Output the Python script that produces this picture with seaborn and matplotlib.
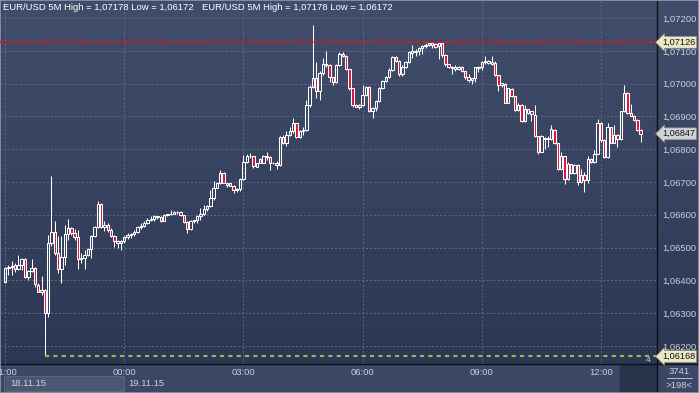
import matplotlib
matplotlib.use("Agg")
import matplotlib.pyplot as plt
import matplotlib.transforms as mtransforms
from matplotlib.colors import LinearSegmentedColormap
from matplotlib.lines import Line2D
from matplotlib.patches import Rectangle
import numpy as np
import seaborn as sns

# 5 minute bars, bar 0 = 19.11.15 00:00, first visible bar = 18.11.15 21:00
first_bar = -36

opens = [
    1.06394, 1.06437, 1.06440, 1.06446, 1.06434, 1.06446, 1.06466, 1.06410, 1.06429, 1.06437,
    1.06386, 1.06366, 1.06371, 1.06302, 1.06513, 1.06548, 1.06483, 1.06434, 1.06471, 1.06541,
    1.06559, 1.06544, 1.06532, 1.06466, 1.06468, 1.06478, 1.06495, 1.06534, 1.06562, 1.06632,
    1.06562, 1.06569, 1.06554, 1.06534, 1.06519, 1.06513, 1.06519, 1.06532, 1.06539, 1.06542,
    1.06549, 1.06562, 1.06566, 1.06574, 1.06583, 1.06586, 1.06595, 1.06593, 1.06581, 1.06599,
    1.06601, 1.06603, 1.06607, 1.06610, 1.06599, 1.06579, 1.06556, 1.06580, 1.06583, 1.06595,
    1.06603, 1.06618, 1.06628, 1.06651, 1.06681, 1.06698, 1.06727, 1.06697, 1.06696, 1.06689,
    1.06676, 1.06678, 1.06709, 1.06762, 1.06780, 1.06778, 1.06747, 1.06769, 1.06759, 1.06778,
    1.06776, 1.06759, 1.06757, 1.06752, 1.06837, 1.06818, 1.06844, 1.06854, 1.06879, 1.06837,
    1.06857, 1.06859, 1.06935, 1.06991, 1.07016, 1.06976, 1.07032, 1.07060, 1.07057, 1.07019,
    1.07006, 1.07057, 1.07091, 1.07084, 1.07044, 1.06986, 1.06935, 1.06930, 1.06935, 1.06966,
    1.06991, 1.06918, 1.06925, 1.06948, 1.06986, 1.07008, 1.07019, 1.07042, 1.07082, 1.07070,
    1.07029, 1.07052, 1.07067, 1.07094, 1.07096, 1.07099, 1.07108, 1.07115, 1.07118, 1.07118,
    1.07121, 1.07115, 1.07123, 1.07088, 1.07060, 1.07047, 1.07044, 1.07044, 1.07050, 1.07037,
    1.07019, 1.07011, 1.07016, 1.07052, 1.07050, 1.07067, 1.07062, 1.07060, 1.07062, 1.07025,
    1.06996, 1.06999, 1.06942, 1.06983, 1.06961, 1.06920, 1.06935, 1.06886, 1.06922, 1.06908,
    1.06905, 1.06839, 1.06793, 1.06834, 1.06830, 1.06830, 1.06859, 1.06818, 1.06739, 1.06778,
    1.06709, 1.06754, 1.06727, 1.06752, 1.06701, 1.06722, 1.06707, 1.06770, 1.06762, 1.06786,
    1.06881, 1.06828, 1.06775, 1.06867, 1.06820, 1.06844, 1.06830, 1.06915, 1.06971, 1.06910,
    1.06902, 1.06889, 1.06859,
]
highs = [
    1.06442, 1.06447, 1.06458, 1.06453, 1.06478, 1.06468, 1.06468, 1.06432, 1.06466, 1.06442,
    1.06392, 1.06412, 1.06373, 1.06539, 1.06717, 1.06580, 1.06534, 1.06534, 1.06569, 1.06587,
    1.06564, 1.06556, 1.06554, 1.06483, 1.06493, 1.06498, 1.06539, 1.06566, 1.06643, 1.06635,
    1.06580, 1.06576, 1.06559, 1.06539, 1.06524, 1.06524, 1.06534, 1.06544, 1.06546, 1.06554,
    1.06566, 1.06574, 1.06580, 1.06589, 1.06597, 1.06599, 1.06597, 1.06595, 1.06601, 1.06603,
    1.06615, 1.06611, 1.06613, 1.06611, 1.06600, 1.06580, 1.06583, 1.06585, 1.06599, 1.06620,
    1.06630, 1.06630, 1.06676, 1.06704, 1.06701, 1.06737, 1.06730, 1.06698, 1.06698, 1.06691,
    1.06681, 1.06712, 1.06783, 1.06786, 1.06788, 1.06780, 1.06759, 1.06773, 1.06783, 1.06793,
    1.06778, 1.06762, 1.06765, 1.06839, 1.06844, 1.06854, 1.06869, 1.06894, 1.06880, 1.06859,
    1.06869, 1.06950, 1.06996, 1.07178, 1.07067, 1.07037, 1.07077, 1.07100, 1.07060, 1.07020,
    1.07060, 1.07095, 1.07096, 1.07086, 1.07045, 1.06987, 1.06938, 1.06938, 1.06996, 1.06994,
    1.06993, 1.06928, 1.06950, 1.06991, 1.07011, 1.07024, 1.07047, 1.07084, 1.07085, 1.07072,
    1.07057, 1.07070, 1.07098, 1.07118, 1.07105, 1.07113, 1.07118, 1.07125, 1.07125, 1.07128,
    1.07125, 1.07125, 1.07125, 1.07090, 1.07061, 1.07053, 1.07057, 1.07054, 1.07053, 1.07039,
    1.07030, 1.07018, 1.07052, 1.07054, 1.07069, 1.07084, 1.07072, 1.07084, 1.07069, 1.07026,
    1.07003, 1.07002, 1.06988, 1.06986, 1.06963, 1.06942, 1.06937, 1.06935, 1.06924, 1.06917,
    1.06935, 1.06840, 1.06842, 1.06836, 1.06839, 1.06874, 1.06862, 1.06820, 1.06790, 1.06780,
    1.06762, 1.06756, 1.06754, 1.06754, 1.06740, 1.06730, 1.06778, 1.06773, 1.06798, 1.06891,
    1.06883, 1.06830, 1.06879, 1.06869, 1.06874, 1.06846, 1.06917, 1.06996, 1.06973, 1.06938,
    1.06904, 1.06891, 1.06861,
]
lows = [
    1.06392, 1.06417, 1.06417, 1.06427, 1.06432, 1.06432, 1.06407, 1.06402, 1.06427, 1.06381,
    1.06365, 1.06355, 1.06172, 1.06288, 1.06505, 1.06478, 1.06422, 1.06392, 1.06447, 1.06524,
    1.06539, 1.06524, 1.06434, 1.06453, 1.06434, 1.06473, 1.06468, 1.06532, 1.06559, 1.06559,
    1.06552, 1.06549, 1.06532, 1.06503, 1.06498, 1.06493, 1.06513, 1.06526, 1.06529, 1.06536,
    1.06544, 1.06556, 1.06562, 1.06572, 1.06581, 1.06581, 1.06587, 1.06579, 1.06580, 1.06597,
    1.06599, 1.06601, 1.06603, 1.06597, 1.06574, 1.06546, 1.06554, 1.06576, 1.06576, 1.06583,
    1.06599, 1.06613, 1.06625, 1.06646, 1.06681, 1.06694, 1.06696, 1.06686, 1.06687, 1.06666,
    1.06671, 1.06674, 1.06707, 1.06757, 1.06773, 1.06744, 1.06745, 1.06757, 1.06757, 1.06767,
    1.06737, 1.06755, 1.06739, 1.06750, 1.06816, 1.06810, 1.06839, 1.06849, 1.06834, 1.06834,
    1.06844, 1.06856, 1.06929, 1.06986, 1.06955, 1.06950, 1.07027, 1.07052, 1.07006, 1.06996,
    1.07001, 1.07054, 1.07082, 1.07042, 1.06981, 1.06928, 1.06928, 1.06922, 1.06932, 1.06963,
    1.06912, 1.06894, 1.06918, 1.06945, 1.06983, 1.07005, 1.07016, 1.07039, 1.07065, 1.07024,
    1.07024, 1.07049, 1.07064, 1.07077, 1.07084, 1.07088, 1.07090, 1.07110, 1.07115, 1.07108,
    1.07110, 1.07074, 1.07082, 1.07055, 1.07048, 1.07029, 1.07040, 1.07042, 1.07035, 1.07014,
    1.07006, 1.06999, 1.07006, 1.07034, 1.07042, 1.07059, 1.07060, 1.07057, 1.07023, 1.06976,
    1.06991, 1.06940, 1.06940, 1.06960, 1.06917, 1.06918, 1.06883, 1.06883, 1.06908, 1.06887,
    1.06837, 1.06786, 1.06790, 1.06800, 1.06808, 1.06828, 1.06816, 1.06737, 1.06737, 1.06694,
    1.06707, 1.06725, 1.06725, 1.06691, 1.06696, 1.06668, 1.06698, 1.06757, 1.06759, 1.06784,
    1.06823, 1.06773, 1.06773, 1.06818, 1.06818, 1.06808, 1.06828, 1.06913, 1.06908, 1.06900,
    1.06887, 1.06857, 1.06823,
]
closes = [
    1.06437, 1.06440, 1.06444, 1.06434, 1.06446, 1.06466, 1.06410, 1.06429, 1.06437, 1.06390,
    1.06366, 1.06371, 1.06302, 1.06513, 1.06548, 1.06483, 1.06434, 1.06471, 1.06541, 1.06559,
    1.06544, 1.06532, 1.06466, 1.06468, 1.06478, 1.06495, 1.06534, 1.06562, 1.06632, 1.06562,
    1.06569, 1.06554, 1.06534, 1.06519, 1.06513, 1.06519, 1.06532, 1.06539, 1.06542, 1.06549,
    1.06562, 1.06566, 1.06574, 1.06585, 1.06586, 1.06595, 1.06592, 1.06581, 1.06599, 1.06601,
    1.06603, 1.06607, 1.06610, 1.06599, 1.06579, 1.06556, 1.06580, 1.06583, 1.06595, 1.06603,
    1.06618, 1.06628, 1.06651, 1.06681, 1.06698, 1.06727, 1.06697, 1.06691, 1.06689, 1.06676,
    1.06678, 1.06709, 1.06762, 1.06780, 1.06778, 1.06749, 1.06757, 1.06759, 1.06778, 1.06776,
    1.06759, 1.06757, 1.06752, 1.06837, 1.06818, 1.06844, 1.06854, 1.06879, 1.06837, 1.06857,
    1.06859, 1.06935, 1.06991, 1.07016, 1.06976, 1.07032, 1.07060, 1.07057, 1.07019, 1.07006,
    1.07057, 1.07091, 1.07084, 1.07044, 1.06986, 1.06935, 1.06930, 1.06935, 1.06966, 1.06991,
    1.06918, 1.06925, 1.06948, 1.06986, 1.07008, 1.07019, 1.07042, 1.07082, 1.07070, 1.07029,
    1.07052, 1.07067, 1.07096, 1.07099, 1.07099, 1.07108, 1.07115, 1.07118, 1.07123, 1.07123,
    1.07113, 1.07123, 1.07088, 1.07060, 1.07050, 1.07052, 1.07052, 1.07052, 1.07037, 1.07019,
    1.07011, 1.07016, 1.07050, 1.07047, 1.07067, 1.07069, 1.07069, 1.07067, 1.07025, 1.06996,
    1.07001, 1.06942, 1.06986, 1.06961, 1.06920, 1.06935, 1.06886, 1.06922, 1.06910, 1.06915,
    1.06839, 1.06793, 1.06839, 1.06830, 1.06834, 1.06862, 1.06818, 1.06739, 1.06778, 1.06709,
    1.06754, 1.06727, 1.06752, 1.06701, 1.06722, 1.06707, 1.06770, 1.06762, 1.06786, 1.06881,
    1.06828, 1.06775, 1.06867, 1.06820, 1.06844, 1.06830, 1.06915, 1.06971, 1.06910, 1.06902,
    1.06889, 1.06859, 1.06847,
]

tick_bars = [-36, 0, 36, 72, 108, 144]
tick_labels = ["21:00", "00:00", "03:00", "06:00", "09:00", "12:00"]
date_labels = ["18.11.15", "19.11.15"]
price_ticks = [1.062, 1.063, 1.064, 1.065, 1.066, 1.067, 1.068, 1.069, 1.070, 1.071, 1.072]
level_high = 1.07126
level_low = 1.06168
low_bar = -24
last_price = 1.06847
title = "EUR/USD 5M High = 1,07178 Low = 1,06172"

sns.set_theme(style="dark", rc={"axes.facecolor": "none", "figure.facecolor": "#2f3a56"})
plt.rcParams["font.family"] = ["Liberation Sans", "DejaVu Sans"]

txt = "#c9d1df"
W, H = 699, 393
fig = plt.figure(figsize=(W / 100, H / 100), dpi=100)

# background gradient for the whole window
bg = fig.add_axes([0, 0, 1, 1])
bg.axis("off")
grad = np.linspace(0, 1, 256).reshape(-1, 1)
cmap = LinearSegmentedColormap.from_list("bg", ["#414e6b", "#2a3551"])
bg.imshow(grad, aspect="auto", cmap=cmap, extent=[0, 1, 0, 1])
bg.set_xlim(0, 1)
bg.set_ylim(0, 1)
# time axis band + boxes
bg.add_patch(Rectangle((0, 0), 1, 29 / H, color="#3b4764", zorder=2))
bg.add_patch(Rectangle((620 / W, 0), 37 / W, 29 / H, color="#28324b", zorder=3))
bg.add_patch(Rectangle((4 / W, 2 / H), 120 / W, 15 / H, fc="#4a5672", ec="#5d6a86", lw=0.6, zorder=3))
bg.add_artist(Line2D([657 / W, 657 / W], [0, 1], color="#0c1018", lw=1.0, zorder=5))
bg.add_artist(Line2D([0, 1], [29 / H, 29 / H], color="#0c1018", lw=1.0, zorder=5))
bg.add_artist(Line2D([667 / W, 692 / W], [15 / H, 15 / H], color=txt, lw=0.6, zorder=5))
bg.add_patch(Rectangle((0, 0), 1, 1, fc="none", ec="#8e99ae", lw=1.2, zorder=6))

ax = fig.add_axes([0, 29 / H, 657 / W, 364 / H])
ax.patch.set_alpha(0)

x = np.arange(first_bar, first_bar + len(opens))
o = np.array(opens)
h = np.array(highs)
l = np.array(lows)
c = np.array(closes)
up = c >= o
top = np.maximum(o, c)
bot = np.minimum(o, c)

ax.vlines(x, top, h, color="white", lw=0.75, zorder=3)
ax.vlines(x, l, bot, color="white", lw=0.75, zorder=3)
ax.bar(x[up], (c - o)[up], bottom=o[up], width=0.72, facecolor="none",
       edgecolor="white", linewidth=0.75, zorder=4)
ax.bar(x[~up], (o - c)[~up], bottom=c[~up], width=0.72, facecolor="#e3103c",
       edgecolor="white", linewidth=0.75, zorder=4)

x_left = (0 - 124.3) / 3.31
x_right = (657 - 124.3) / 3.31
ax.axhline(level_high, color="#e4101c", lw=1.5, ls=(0, (2, 1.5)), zorder=5)
ax.hlines(level_low, low_bar, x_right, color="#8cc63f", lw=1.5, ls=(0, (2, 2)), zorder=5)

ax.set_xlim(x_left, x_right)
ax.set_ylim(1.06145, 1.07255)

ax.set_xticks(tick_bars, tick_labels)
ax.set_yticks(price_ticks, [f"{p:.5f}".replace(".", ",") for p in price_ticks])
ax.yaxis.tick_right()
ax.tick_params(axis="both", length=0, labelsize=6.8, labelcolor=txt)
ax.tick_params(axis="x", pad=3)
ax.tick_params(axis="y", pad=4)
ax.grid(True, color="#5b6a88", lw=0.7, ls=(0, (2, 2)))
ax.set_axisbelow(True)
for s in ax.spines.values():
    s.set_visible(False)

# price tags on the right scale
trans = mtransforms.blended_transform_factory(ax.transAxes, ax.transData)
for val, fc in [(level_high, "#ece7c6"), (last_price, "#cfd3da"), (level_low, "#ece7c6")]:
    ax.text(1 + 5 / 657, val, f"{val:.5f}".replace(".", ","), transform=trans,
            ha="left", va="center", fontsize=6.6, color="#141414", zorder=7, clip_on=False,
            bbox=dict(boxstyle="larrow,pad=0.16", fc=fc, ec="#8a8a7a", lw=0.5))

fig.text(3 / W, 1 - 3 / H, title, color="white", fontsize=6.8, va="top", ha="left")
fig.text(202 / W, 1 - 3 / H, title, color="white", fontsize=6.8, va="top", ha="left")
fig.text(646 / W, (H - 360) / H, "4", color=txt, fontsize=6, ha="left", va="center")

fig.text(10 / W, (H - 383) / H, date_labels[0], color=txt, fontsize=6.8, va="center", ha="left")
fig.text(128 / W, (H - 383) / H, date_labels[1], color=txt, fontsize=6.8, va="center", ha="left")
fig.text(679 / W, (H - 372) / H, "3741", color=txt, fontsize=6.8, va="center", ha="center")
fig.text(679 / W, (H - 385) / H, ">198<", color=txt, fontsize=6.8, va="center", ha="center")

fig.savefig("out.png", dpi=100)
